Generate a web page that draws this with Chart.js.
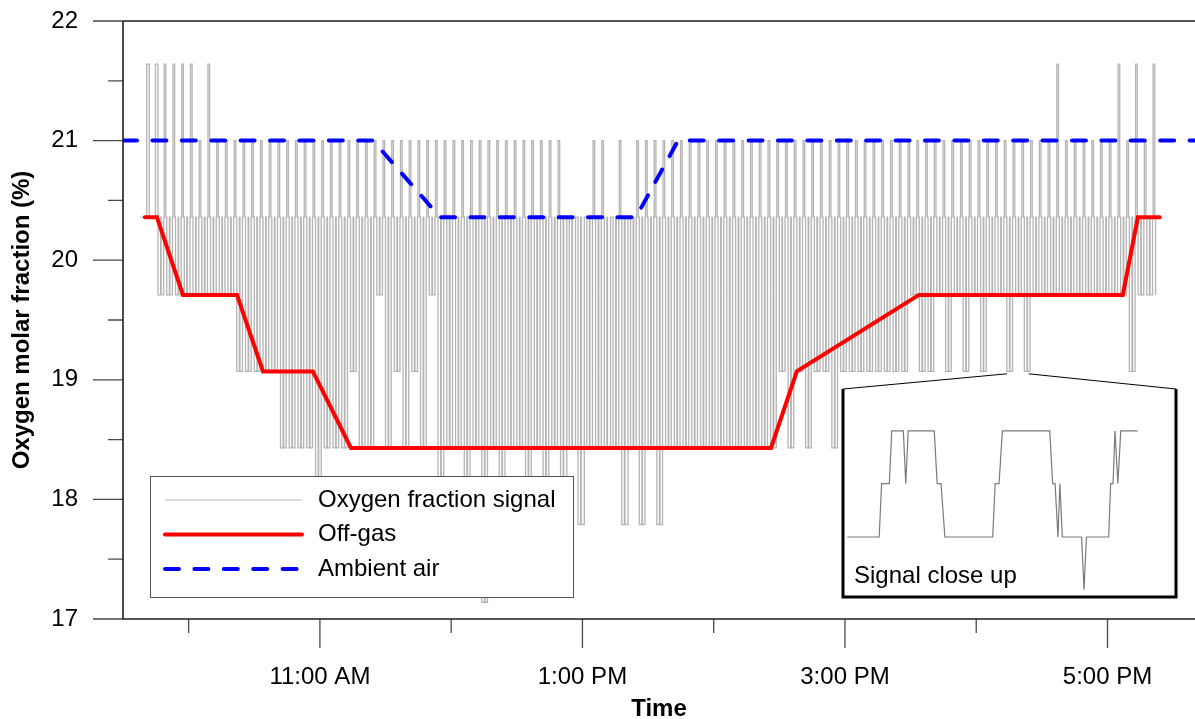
<!DOCTYPE html>
<html>
<head>
<meta charset="utf-8">
<title>Oxygen molar fraction</title>
<script src="https://cdn.jsdelivr.net/npm/chart.js@4.4.1/dist/chart.umd.min.js"></script>
<style>
    html, body { margin: 0; padding: 0; background: #fff; }
    #wrap { position: relative; width: 1195px; height: 719px; }
    #mainChart { position: absolute; left: 0; top: 0; }
    #closeUp { position: absolute; left: 843px; top: 389px; }
</style>
</head>
<body>
<div id="wrap">
    <canvas id="mainChart" width="1195" height="719"></canvas>
    <canvas id="closeUp" width="333" height="208"></canvas>
</div>
<script>
// x values are minutes after midnight
const xTickValues = [660, 780, 900, 1020];
const xTickLabels = ['11:00 AM', '1:00 PM', '3:00 PM', '5:00 PM'];

// Off-gas (red) and ambient air (blue) reference levels
const offGasTimes = [580, 585.5, 597.4, 622.1, 634.0, 656.8, 674.2, 866.2, 878.0, 933.8, 1027.0, 1033.9, 1043.9];
const offGasValues = [20.36, 20.36, 19.71, 19.71, 19.07, 19.07, 18.43, 18.43, 19.07, 19.71, 19.71, 20.36, 20.36];

const ambientTimes = [570, 684.3, 714.9, 804.5, 823.7, 1060];
const ambientValues = [21.0, 21.0, 20.36, 20.36, 21.0, 21.0];

// Analyzer signal: one switching cycle every 4 minutes starting 9:38,
// peak (ambient side) and trough (off-gas side) of each cycle
const signalStart = 578;
const cycleMinutes = 4;
const stepLevel = 20.36;   // intermediate reading the analyzer passes through
const signalPeak = [
    21.64, 21.64, 21.64, 21.64, 21.64, 21.64, 21.0, 21.64, 21.0, 21.0,
    21.0, 21.0, 21.0, 21.0, 21.0, 21.0, 21.0, 21.0, 21.0, 21.0,
    21.0, 21.0, 21.0, 21.0, 21.0, 21.0, 21.0, 21.0, 21.0, 21.0,
    21.0, 21.0, 21.0, 21.0, 21.0, 21.0, 21.0, 21.0, 21.0, 21.0,
    21.0, 21.0, 21.0, 21.0, 21.0, 21.0, 21.0, 21.0, 20.36, 20.36,
    20.36, 21.0, 21.0, 20.36, 21.0, 20.36, 21.0, 21.0, 21.0, 21.0,
    21.0, 21.0, 21.0, 21.0, 21.0, 21.0, 21.0, 21.0, 21.0, 21.0,
    21.0, 21.0, 21.0, 21.0, 21.0, 21.0, 21.0, 21.0, 21.0, 21.0,
    21.0, 21.0, 21.0, 21.0, 21.0, 21.0, 21.0, 21.0, 21.0, 21.0,
    21.0, 21.0, 21.0, 21.0, 21.0, 21.0, 21.0, 21.0, 21.0, 21.0,
    21.0, 21.0, 21.0, 21.0, 21.64, 21.0, 21.0, 21.0, 21.0, 21.0,
    21.0, 21.64, 21.0, 21.64, 21.0, 21.64
];
const signalTrough = [
    20.36, 20.36, 19.71, 19.71, 19.71, 19.71, 19.71, 19.71, 19.71, 19.71,
    19.71, 19.07, 19.07, 19.07, 19.07, 19.07, 18.43, 18.43, 18.43, 18.43,
    17.79, 18.43, 18.43, 18.43, 19.07, 18.43, 18.43, 19.71, 18.43, 19.07,
    18.43, 19.07, 18.43, 19.71, 17.79, 18.43, 18.43, 17.79, 18.43, 17.14,
    18.43, 17.79, 18.43, 18.43, 17.79, 18.43, 17.79, 18.43, 17.79, 18.43,
    17.79, 18.43, 18.43, 18.43, 18.43, 17.79, 18.43, 17.79, 18.43, 17.79,
    18.43, 18.43, 18.43, 18.43, 18.43, 18.43, 18.43, 18.43, 18.43, 18.43,
    18.43, 18.43, 18.43, 19.07, 18.43, 19.07, 18.43, 19.07, 19.07, 18.43,
    19.07, 19.07, 19.07, 19.07, 19.07, 19.07, 19.07, 19.07, 19.71, 19.07,
    19.07, 19.71, 19.07, 19.71, 19.07, 19.71, 19.07, 19.71, 19.71, 19.07,
    19.71, 19.07, 19.71, 19.71, 19.71, 19.71, 19.71, 19.71, 19.71, 19.71,
    19.71, 19.71, 19.71, 19.07, 19.71, 19.71
];
// switching schedule inside a cycle (minutes after cycle start):
// short flicker to the step reading during the off-gas phase, then the ambient phase
const flickerAt = 1.2;
const flickerEnd = 1.45;
const stepUpAt = 2.6;
const peakAt = 2.85;
const stepDownAt = 3.6;

// Close-up of the signal (seconds, %)
const closeUpSeconds = [0, 66, 71, 87, 92, 116, 121, 126, 180, 186, 194, 202, 301, 306, 314, 321,
    419, 425, 430, 436, 440, 445, 485, 490, 495, 541, 545, 550, 554, 560, 566, 601];
const closeUpValues = [19.71, 19.71, 20.36, 20.36, 21.0, 21.0, 20.36, 21.0, 21.0, 20.36, 20.36, 19.71, 19.71, 20.36, 20.36, 21.0,
    21.0, 20.36, 20.36, 19.71, 20.36, 19.71, 19.71, 19.07, 19.71, 19.71, 20.36, 20.36, 21.0, 20.36, 21.0, 21.0];
// part of the main signal shown in the close-up (minutes, %)
const closeUpWindow = [974, 984];
const closeUpLevel = 19.05;

const FONT_FAMILY = '"Liberation Sans", Arial, sans-serif';
const INSET = { left: 843, top: 389, right: 1176, bottom: 597 };

Chart.defaults.color = '#000';
Chart.defaults.font.family = FONT_FAMILY;

function toPoints(xs, ys) {
    return xs.map((x, i) => ({ x: x, y: ys[i] }));
}

function buildSignal() {
    const points = [];
    signalPeak.forEach((peak, i) => {
        const t = signalStart + i * cycleMinutes;
        const low = signalTrough[i];
        const hasStep = low < stepLevel && peak > stepLevel;
        points.push({ x: t, y: low });
        if (low < stepLevel) {
            points.push({ x: t + flickerAt, y: stepLevel });
            points.push({ x: t + flickerEnd, y: low });
        }
        if (hasStep) points.push({ x: t + stepUpAt, y: stepLevel });
        points.push({ x: t + peakAt, y: peak });
        if (hasStep) points.push({ x: t + stepDownAt, y: stepLevel });
    });
    points.push({ x: signalStart + signalPeak.length * cycleMinutes, y: signalTrough[signalTrough.length - 1] });
    return points;
}

// frame, tick marks
const axisMarks = {
    id: 'axisMarks',
    afterDraw(chart) {
        const { ctx, chartArea: ca, scales: { x, y } } = chart;
        ctx.save();
        ctx.strokeStyle = '#4a4a4a';
        ctx.lineWidth = 1.3;
        ctx.beginPath();
        y.ticks.forEach(t => {
            const py = y.getPixelForValue(t.value);
            ctx.moveTo(ca.left - 30, py);
            ctx.lineTo(ca.left, py);
            if (t.value < y.max) {
                const pm = y.getPixelForValue(t.value + 0.5);
                ctx.moveTo(ca.left - 15, pm);
                ctx.lineTo(ca.left, pm);
            }
        });
        x.ticks.forEach(t => {
            const px = x.getPixelForValue(t.value);
            const len = xTickValues.includes(t.value) ? 29 : 14;
            ctx.moveTo(px, ca.bottom);
            ctx.lineTo(px, ca.bottom + len);
        });
        ctx.stroke();

        ctx.strokeStyle = '#1e1e1e';
        ctx.lineWidth = 1.6;
        ctx.beginPath();
        ctx.moveTo(ca.left, ca.top);
        ctx.lineTo(ca.right, ca.top);
        ctx.moveTo(ca.left, ca.top);
        ctx.lineTo(ca.left, ca.bottom);
        ctx.lineTo(ca.right, ca.bottom);
        ctx.stroke();
        ctx.restore();
    }
};

// legend box in the lower left corner of the plot
const legendBox = {
    id: 'legendBox',
    afterDatasetsDraw(chart) {
        const { ctx, chartArea: ca } = chart;
        const box = { left: ca.left + 27, top: ca.bottom - 143, right: ca.left + 450, bottom: ca.bottom - 22 };
        ctx.save();
        ctx.fillStyle = '#fff';
        ctx.fillRect(box.left, box.top, box.right - box.left, box.bottom - box.top);
        ctx.strokeStyle = '#555';
        ctx.lineWidth = 1;
        ctx.strokeRect(box.left + 0.5, box.top + 0.5, box.right - box.left, box.bottom - box.top);
        ['signal', 'offgas', 'ambient'].forEach((key, row) => {
            const ds = chart.data.datasets.find(d => d.key === key);
            const cy = box.top + 24 + row * 34.5;
            ctx.beginPath();
            ctx.strokeStyle = key === 'signal' ? '#d0d0d0' : ds.borderColor;
            ctx.lineWidth = key === 'signal' ? 1.5 : ds.borderWidth;
            ctx.setLineDash(ds.borderDash || []);
            ctx.lineCap = ds.borderCapStyle || 'butt';
            ctx.moveTo(box.left + 15, cy);
            ctx.lineTo(box.left + 152, cy);
            ctx.stroke();
            ctx.setLineDash([]);
            ctx.fillStyle = '#000';
            ctx.font = '24px ' + FONT_FAMILY;
            ctx.textBaseline = 'middle';
            ctx.fillText(ds.label, box.left + 168, cy);
        });
        ctx.restore();
    }
};

// open frame of the close-up and its connector lines
const insetFrame = {
    id: 'insetFrame',
    afterDraw(chart) {
        const { ctx, scales: { x, y } } = chart;
        const ly = y.getPixelForValue(closeUpLevel);
        ctx.save();
        ctx.strokeStyle = '#000';
        ctx.lineWidth = 1;
        ctx.beginPath();
        ctx.moveTo(INSET.left, INSET.top);
        ctx.lineTo(x.getPixelForValue(closeUpWindow[0]), ly);
        ctx.moveTo(x.getPixelForValue(closeUpWindow[1]), ly);
        ctx.lineTo(INSET.right, INSET.top);
        ctx.stroke();
        ctx.lineWidth = 3;
        ctx.beginPath();
        ctx.moveTo(INSET.left, INSET.top);
        ctx.lineTo(INSET.left, INSET.bottom);
        ctx.lineTo(INSET.right, INSET.bottom);
        ctx.lineTo(INSET.right, INSET.top);
        ctx.stroke();
        ctx.restore();
    }
};

new Chart(document.getElementById('mainChart'), {
    type: 'line',
    data: {
        datasets: [
            {
                key: 'offgas',
                label: 'Off-gas',
                data: toPoints(offGasTimes, offGasValues),
                borderColor: '#ff0000',
                borderWidth: 4,
                borderCapStyle: 'round',
                borderJoinStyle: 'miter',
                order: 1
            },
            {
                key: 'ambient',
                label: 'Ambient air',
                data: toPoints(ambientTimes, ambientValues),
                borderColor: '#0000ff',
                borderWidth: 4,
                borderDash: [14, 15.4],
                borderCapStyle: 'round',
                order: 2
            },
            {
                key: 'signal',
                label: 'Oxygen fraction signal',
                data: buildSignal(),
                borderColor: '#b4b4b4',
                borderWidth: 1.3,
                stepped: true,
                order: 3
            }
        ]
    },
    options: {
        responsive: false,
        animation: false,
        devicePixelRatio: 1,
        layout: { padding: { top: 21, left: 0, right: 0, bottom: 0 } },
        elements: { point: { radius: 0 }, line: { tension: 0 } },
        plugins: { legend: { display: false }, tooltip: { enabled: false } },
        scales: {
            x: {
                type: 'linear',
                min: 570,
                max: 1060,
                grid: { display: false, drawTicks: false },
                border: { display: false },
                ticks: {
                    stepSize: 60,
                    includeBounds: false,
                    autoSkip: false,
                    maxRotation: 0,
                    padding: 44,
                    font: { size: 24 },
                    callback: v => {
                        const k = xTickValues.indexOf(v);
                        return k >= 0 ? xTickLabels[k] : '';
                    }
                },
                title: {
                    display: true,
                    text: 'Time',
                    font: { size: 24, weight: 'bold', lineHeight: 0.8 },
                    padding: 0
                },
                afterFit(s) { s.height = 100; s.paddingLeft = 0; s.paddingRight = 0; }
            },
            y: {
                min: 17,
                max: 22,
                grid: { display: false, drawTicks: false },
                border: { display: false },
                ticks: { stepSize: 1, padding: 45, font: { size: 24 } },
                title: {
                    display: true,
                    text: 'Oxygen molar fraction (%)',
                    font: { size: 24, weight: 'bold' },
                    padding: { top: 8, bottom: 0 }
                },
                afterFit(s) { s.width = 123; s.paddingTop = 0; s.paddingBottom = 0; }
            }
        }
    },
    plugins: [axisMarks, legendBox, insetFrame]
});

// caption inside the close-up
const closeUpCaption = {
    id: 'closeUpCaption',
    afterDraw(chart) {
        const ctx = chart.ctx;
        ctx.save();
        ctx.fillStyle = '#000';
        ctx.font = '24px ' + FONT_FAMILY;
        ctx.textBaseline = 'alphabetic';
        ctx.fillText('Signal close up', 11, 194);
        ctx.restore();
    }
};

new Chart(document.getElementById('closeUp'), {
    type: 'line',
    data: {
        datasets: [{
            data: toPoints(closeUpSeconds, closeUpValues),
            borderColor: '#7a7a7a',
            borderWidth: 1.2
        }]
    },
    options: {
        responsive: false,
        animation: false,
        devicePixelRatio: 1,
        layout: { padding: 0 },
        elements: { point: { radius: 0 }, line: { tension: 0 } },
        plugins: { legend: { display: false }, tooltip: { enabled: false } },
        scales: {
            x: { type: 'linear', min: -8.9, max: 680.3, display: false },
            y: { min: 18.98, max: 21.51, display: false }
        }
    },
    plugins: [closeUpCaption]
});
</script>
</body>
</html>
